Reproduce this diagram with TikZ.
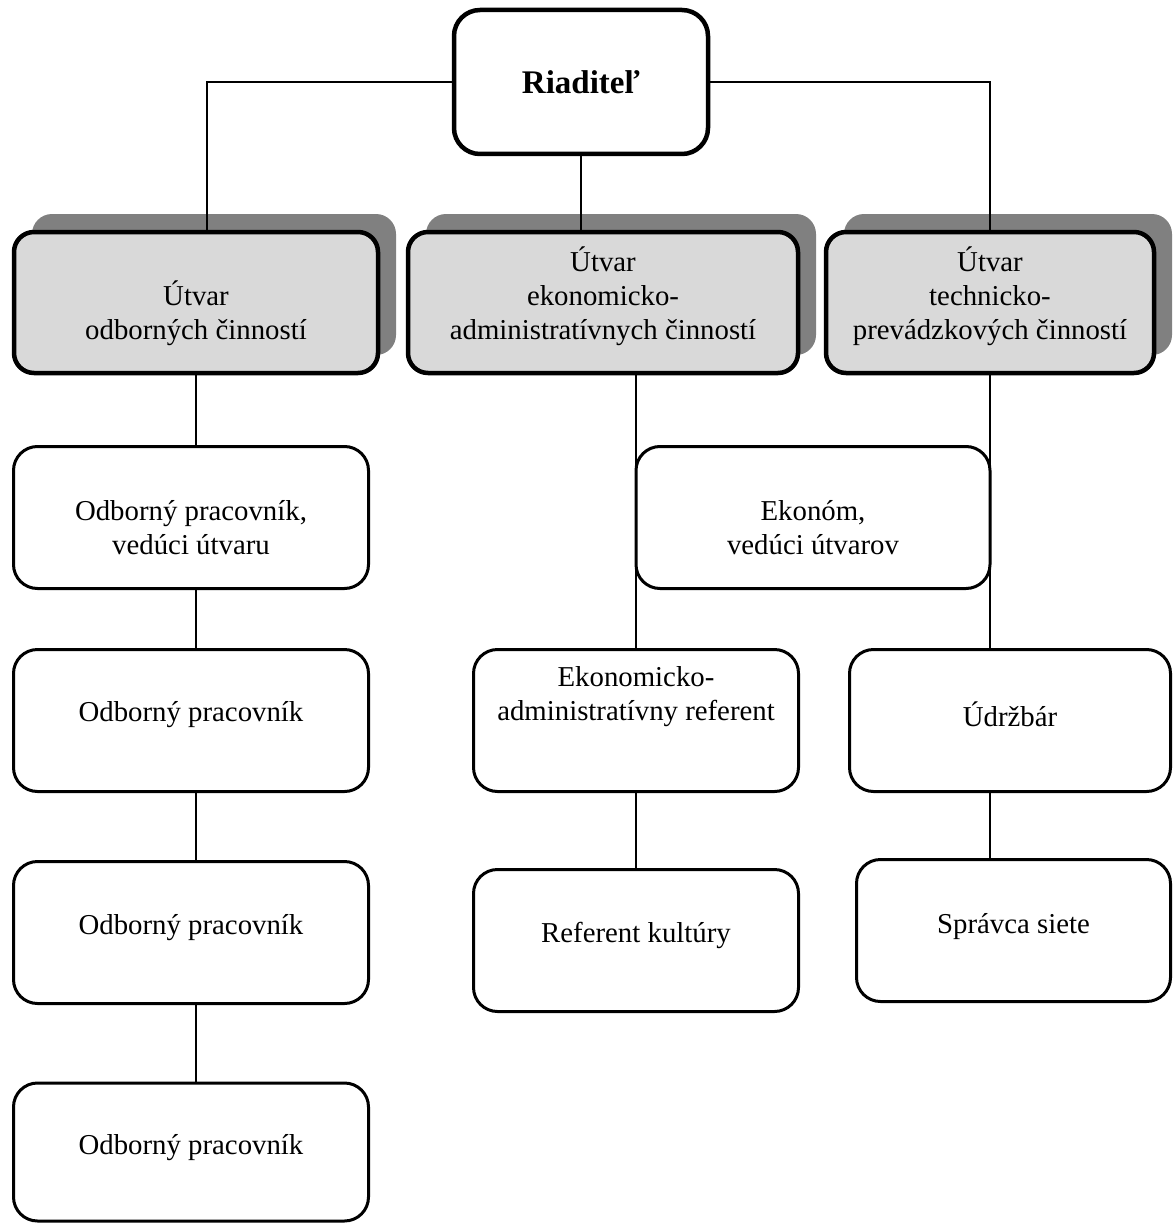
\documentclass[tikz,border=0pt]{standalone}
\usepackage{fontspec}
\setmainfont{Liberation Serif}
\usetikzlibrary{shadows}

\newcommand\orgtextstyle{\fontsize{28.8}{34}\selectfont}
\newcommand\orgheadstyle{\fontsize{33}{38}\selectfont\bfseries}
% box: style, name, x, y, width, height, text shift, text
\newcommand\orgbox[8]{
  \node[#1, minimum width=#5pt, minimum height=#6pt] (#2) at (#3, #4) {} ;
  \node[orgtext] (#2txt) at ([yshift=#7pt]#2.center) {#8} ;
}

\tikzset{
  orgtext/.style={font=\orgtextstyle, align=center, inner sep=0pt},
  whitebox/.style={draw, line width=3pt, fill=white, rounded corners=24pt, inner sep=0pt},
  headbox/.style={draw, line width=4.5pt, fill=white, rounded corners=26pt, inner sep=0pt},
  unitbox/.style={draw, line width=4.5pt, fill=black!15, rounded corners=20pt, inner sep=0pt,
    drop shadow={shadow xshift=18pt, shadow yshift=18pt, fill=black!50, opacity=1}},
  link/.style={line width=1.5pt},
}

\begin{document}
\begin{tikzpicture}[x=1pt, y=-1pt]
  \useasboundingbox (0,0) rectangle (1175,1225) ;
  % director
  \orgbox{headbox}{riad}{581}{82}{254}{144}{0}{\orgheadstyle Riaditeľ}
  % units
  \orgbox{unitbox}{godb}{196}{302.5}{364}{141}{-10.5}{Útvar\\odborných činností}
  \orgbox{unitbox}{geko}{603}{302.5}{390}{141}{6.5}{Útvar\\ekonomicko-\\administratívnych činností}
  \orgbox{unitbox}{gtech}{990}{302.5}{328}{141}{6.5}{Útvar\\technicko-\\prevádzkových činností}
  % first column
  \orgbox{whitebox}{odba}{191}{517.5}{355}{142}{-10}{Odborný pracovník,\\vedúci útvaru}
  \orgbox{whitebox}{odbb}{191}{720.5}{355}{142}{6}{Odborný pracovník}
  \orgbox{whitebox}{odbc}{191}{932.5}{355}{142}{5}{Odborný pracovník}
  \orgbox{whitebox}{odbd}{191}{1152}{355}{138}{4}{Odborný pracovník}
  % second column
  \orgbox{whitebox}{ekonom}{813}{517.5}{354}{142}{-10.5}{Ekonóm,\\vedúci útvarov}
  \orgbox{whitebox}{eref}{636}{720.5}{325}{142}{23.5}{Ekonomicko-\\administratívny referent}
  \orgbox{whitebox}{ekult}{636}{940.5}{325}{142}{5.5}{Referent kultúry}
  % third column
  \orgbox{whitebox}{udrz}{1010}{720.5}{321}{142}{6.5}{Údržbár}
  \orgbox{whitebox}{sprav}{1013.5}{930.5}{314}{142}{3.5}{Správca siete}
  % links
  \draw[link] (riad.west) -| ([xshift=11pt]godb.north) ;
  \draw[link] (riad.east) -| (gtech.north) ;
  \draw[link] (riad.south) -- (riad.south |- geko.north) ;
  \draw[link] (godb.south) -- (godb.south |- odba.north) ;
  \draw[link] (odba.south -| godb.south) -- (odbb.north -| godb.south) ;
  \draw[link] (odbb.south -| godb.south) -- (odbc.north -| godb.south) ;
  \draw[link] (odbc.south -| godb.south) -- (odbd.north -| godb.south) ;
  \draw[link] (eref.north |- geko.south) -- (eref.north) ;
  \draw[link] (eref.south) -- (ekult.north) ;
  \draw[link] (gtech.south) -- (gtech.south |- udrz.north) ;
  \draw[link] (udrz.south -| gtech.south) -- (sprav.north -| gtech.south) ;
\end{tikzpicture}
\end{document}
